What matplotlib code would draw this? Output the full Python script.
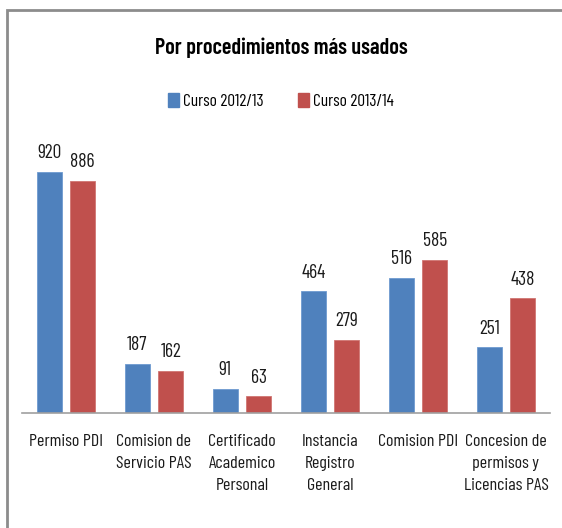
import matplotlib
matplotlib.use("Agg")
import matplotlib.pyplot as plt
from matplotlib import font_manager
from matplotlib.patches import Rectangle
import numpy as np

categories = ["Permiso PDI", "Comision de\nServicio PAS", "Certificado\nAcademico\nPersonal",
              "Instancia\nRegistro\nGeneral", "Comision PDI", "Concesion de\npermisos y\nLicencias PAS"]
series_names = ["Curso 2012/13", "Curso 2013/14"]
curso_2012 = [920, 187, 91, 464, 516, 251]
curso_2013 = [886, 162, 63, 279, 585, 438]
title = "Por procedimientos más usados"

colors = ["#4F81BD", "#C0504D"]

avail = {f.name for f in font_manager.fontManager.ttflist}
fam = "DejaVu Sans"
for cand in ("Barlow Condensed", "Archivo Narrow", "Fira Sans Condensed", "Asap Condensed"):
    if cand in avail:
        fam = cand
        break
plt.rcParams["font.family"] = [fam, "DejaVu Sans"]

W, H = 562, 528
fig = plt.figure(figsize=(W / 100, H / 100), dpi=100)
fig.patch.set_facecolor("white")

# outer frame
fig.add_artist(Rectangle((7 / W, -0.05), 1.1, (H - 10) / H + 0.05, transform=fig.transFigure,
                         fill=False, edgecolor="#8C8C8C", linewidth=2.0))

ax = fig.add_axes([22 / W, 1 - 413 / H, (550 - 22) / W, (413 - 151) / H])
x = np.arange(len(categories))
bw = 0.29
gap = 0.09
off = (bw + gap) / 2
b1 = ax.bar(x - off, curso_2012, bw, color=colors[0], edgecolor="#6E9AD0", linewidth=0.6, label=series_names[0])
b2 = ax.bar(x + off, curso_2013, bw, color=colors[1], edgecolor="#D07572", linewidth=0.6, label=series_names[1])

for bars, vals in ((b1, curso_2012), (b2, curso_2013)):
    for r, v in zip(bars, vals):
        ax.annotate(str(v), (r.get_x() + r.get_width() / 2, v), xytext=(0, 7),
                    textcoords="offset points", ha="center", va="bottom", fontsize=14, color="#1a1a1a")

ax.set_xlim(-0.5, len(categories) - 0.5)
ax.set_ylim(0, 1000)
ax.set_yticks([])
ax.set_xticks(x)
ax.set_xticklabels(categories, fontsize=13, linespacing=1.58, color="#1a1a1a")
ax.tick_params(axis="x", length=0, pad=15)
for s in ("top", "right", "left"):
    ax.spines[s].set_visible(False)
ax.spines["bottom"].set_color("#A0A0A0")
ax.spines["bottom"].set_linewidth(1.2)

fig.text(0.5, 1 - 48 / H, title, ha="center", va="center", fontsize=16, fontweight="semibold", color="black")

handles = [Rectangle((0, 0), 1, 1, color=c) for c in colors]
fig.legend(handles, series_names, loc="center", bbox_to_anchor=(0.5, 1 - 101 / H), ncol=2,
           frameon=False, fontsize=12.5, handlelength=0.6, handleheight=0.9, handletextpad=0.25,
           columnspacing=2.0)

fig.savefig("out.png", dpi=100, facecolor="white")
